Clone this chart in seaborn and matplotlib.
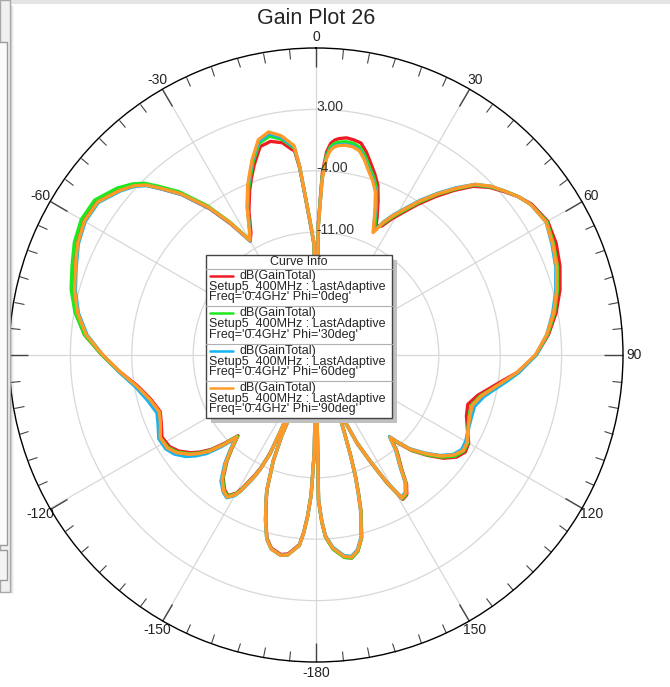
import numpy as np
import pandas as pd
import matplotlib.pyplot as plt
import seaborn as sns
from matplotlib.patches import Rectangle
from matplotlib.lines import Line2D

# angle (deg, clockwise from top) shared by all four curves
theta_deg = [-180, -179, -178, -177, -176, -175, -172, -170, -167, -165,
             -163, -161, -160, -158, -157, -156, -155, -154, -153, -151,
             -150, -148, -146, -143, -140, -138, -136, -134, -132, -130,
             -128, -125, -122, -118, -114, -110, -105, -100, -95, -90,
             -85, -80, -75, -70, -65, -60, -55, -50, -47, -45,
             -43, -40, -36, -33, -30, -28, -25, -22, -20, -18,
             -15, -12, -9, -7, -6, -5, -4, -3, -2, -1,
             0, 1, 2, 3, 4, 5, 6, 8, 10, 12,
             14, 16, 18, 20, 22, 24, 25, 27, 29, 31,
             34, 37, 40, 43, 46, 49, 52, 55, 60, 65,
             70, 75, 80, 85, 90, 95, 98, 101, 104, 108,
             112, 117, 120, 123, 126, 129, 132, 135, 137, 138,
             140, 143, 145, 147, 149, 151, 153, 155, 157, 158,
             159, 160, 161, 162, 163, 164, 166, 168, 170, 172,
             175, 177, 178, 179, 180]

gain_phi0 = [-25, -14, -9, -6.6, -4.7, -3.3, -2.1, -1.9, -2.4, -3.4,
             -5.4, -7.6, -8.7, -12, -15, -25, -12.8, -10.8, -9.6, -7.6,
             -6.8, -6.1, -6.4, -7.4, -9.2, -10.7, -12.2, -10.5, -8.9, -7.8,
             -6.9, -5.9, -5.3, -5.1, -5.7, -6.1, -5.5, -4.4, -2.6, -0.6,
             1.5, 2.8, 3.8, 4.5, 5.3, 5.7, 5.6, 4.4, 3.3, 2.4,
             0.9, -1.1, -4.4, -7.2, -10.0, -9.2, -6.9, -4.8, -3.5, -2.2,
             -0.4, -0.1, -0.5, -1.3, -1.6, -3.6, -6.6, -9.0, -10.9, -12.5,
             -25, -10.0, -4.2, -1.8, -0.8, -0.4, -0.2, 0.0, -0.1, -0.3,
             -1.2, -2.3, -3.3, -4.4, -6.1, -7.9, -8.8, -8.5, -7.3, -6.2,
             -4.3, -2.4, -0.5, 1.3, 2.5, 3.4, 4.3, 5.0, 5.5, 5.2,
             4.6, 3.8, 2.8, 1.6, 0.1, -2.0, -3.6, -4.9, -6.0, -6.8,
             -6.5, -5.6, -4.9, -4.7, -5.2, -6.3, -7.9, -9.6, -11.3, -12.2,
             -10.6, -8.8, -7.0, -6.0, -5.8, -8.3, -11.3, -13.8, -17.3, -25,
             -17.3, -15.3, -12.8, -10.3, -8.3, -6.3, -3.5, -2.1, -1.5, -1.7,
             -2.8, -4.2, -5.9, -8.4, -25]

gain_phi30 = [-25, -14, -9, -6.5, -4.6, -3.2, -2.0, -1.8, -2.3, -3.3,
              -5.3, -7.5, -8.6, -12, -15, -25, -12.6, -10.6, -9.4, -7.4,
              -6.7, -6.0, -6.3, -7.3, -9.1, -10.6, -12.1, -10.3, -8.7, -7.6,
              -6.7, -5.7, -5.1, -4.9, -5.5, -5.8, -5.2, -4.2, -2.5, -0.6,
              1.5, 2.9, 3.9, 4.6, 5.4, 5.9, 5.8, 4.6, 3.6, 2.7,
              1.3, -0.7, -4.0, -6.9, -9.8, -8.9, -6.6, -4.5, -3.2, -1.8,
              0.0, 0.5, -0.1, -0.9, -1.3, -3.4, -6.5, -8.9, -10.8, -12.4,
              -25, -10.3, -4.6, -2.2, -1.2, -0.8, -0.6, -0.45, -0.5, -0.8,
              -1.7, -2.8, -3.7, -4.8, -6.6, -8.4, -9.2, -8.2, -7.0, -5.9,
              -4.0, -2.1, -0.3, 1.5, 2.6, 3.5, 4.3, 4.9, 5.4, 4.9,
              4.3, 3.5, 2.6, 1.5, 0.1, -1.9, -3.3, -4.6, -5.7, -6.4,
              -6.2, -5.6, -5.0, -4.9, -5.4, -6.5, -8.0, -9.7, -11.4, -12.3,
              -10.7, -8.9, -7.1, -6.1, -5.9, -8.4, -11.4, -13.9, -17.4, -25,
              -17.4, -15.4, -12.9, -10.4, -8.4, -6.4, -3.5, -2.1, -1.5, -1.7,
              -2.8, -4.2, -5.9, -8.4, -25]

gain_phi60 = [-25, -14, -9, -6.5, -4.6, -3.2, -2.0, -1.8, -2.3, -3.3,
              -5.3, -7.5, -8.6, -12, -15, -25, -12.4, -10.4, -9.2, -7.2,
              -6.5, -5.8, -6.1, -7.0, -8.8, -10.3, -11.8, -9.9, -8.2, -7.1,
              -6.2, -5.3, -4.8, -4.7, -5.3, -5.7, -5.1, -4.1, -2.5, -0.7,
              1.2, 2.5, 3.4, 4.1, 4.9, 5.4, 5.3, 4.1, 3.2, 2.3,
              0.9, -1.1, -4.3, -7.1, -10.0, -8.9, -6.5, -4.3, -3.0, -1.6,
              0.2, 0.8, 0.1, -0.8, -1.1, -3.3, -6.4, -8.8, -10.7, -12.3,
              -25, -10.4, -4.9, -2.5, -1.5, -1.1, -0.9, -0.75, -0.8, -1.1,
              -2.0, -3.1, -4.0, -5.1, -6.9, -8.7, -9.5, -7.9, -6.7, -5.6,
              -3.7, -1.9, -0.1, 1.6, 2.7, 3.5, 4.3, 4.9, 5.3, 4.7,
              4.1, 3.3, 2.4, 1.4, 0.1, -1.8, -3.1, -4.3, -5.3, -6.0,
              -5.9, -5.6, -5.3, -5.2, -5.7, -6.8, -8.3, -9.9, -11.6, -12.5,
              -10.9, -9.1, -7.3, -6.3, -6.1, -8.6, -11.6, -14.1, -17.6, -25,
              -17.6, -15.6, -13.1, -10.6, -8.6, -6.6, -3.7, -2.3, -1.7, -1.9,
              -3.0, -4.4, -6.1, -8.6, -25]

gain_phi90 = [-25, -14, -9, -6.5, -4.6, -3.2, -2.0, -1.8, -2.3, -3.3,
              -5.3, -7.5, -8.6, -12, -15, -25, -12.5, -10.5, -9.3, -7.3,
              -6.6, -5.9, -6.2, -7.2, -9.0, -10.5, -12.0, -10.2, -8.6, -7.5,
              -6.6, -5.6, -5.0, -4.9, -5.6, -6.0, -5.4, -4.3, -2.6, -0.7,
              1.3, 2.6, 3.5, 4.2, 5.0, 5.5, 5.4, 4.2, 3.3, 2.4,
              1.0, -1.0, -4.2, -7.0, -9.9, -8.8, -6.4, -4.2, -2.9, -1.5,
              0.4, 1.0, 0.3, -0.6, -1.0, -3.3, -6.4, -8.8, -10.7, -12.3,
              -25, -10.5, -5.0, -2.6, -1.6, -1.2, -1.0, -0.85, -0.9, -1.2,
              -2.1, -3.2, -4.1, -5.2, -7.0, -8.8, -9.6, -8.0, -6.8, -5.7,
              -3.8, -2.0, -0.2, 1.6, 2.7, 3.5, 4.3, 4.9, 5.3, 4.8,
              4.2, 3.4, 2.5, 1.4, 0.0, -2.0, -3.4, -4.6, -5.6, -6.3,
              -6.1, -5.6, -5.1, -5.0, -5.6, -6.7, -8.2, -9.8, -11.5, -12.4,
              -10.8, -9.0, -7.2, -6.2, -6.0, -8.5, -11.5, -14, -17.5, -25,
              -17.5, -15.5, -13, -10.5, -8.5, -6.5, -3.6, -2.2, -1.6, -1.8,
              -2.9, -4.3, -6.0, -8.5, -25]

phi_labels = ["0deg", "30deg", "60deg", "90deg"]
curve_colors = ["#ee1c24", "#1ee81e", "#14b4f0", "#ff9a28"]
ring_levels = [-18, -11, -4, 3]
ring_labels_shown = [-11, -4, 3]   # -18.00 is hidden behind the curve info box
angle_ticks = [0, 30, 60, 90, 120, 150, 180, 210, 240, 270, 300, 330]
# the -90 label sits under the side panel in the screenshot, so it is left blank
angle_labels = ["0", "30", "60", "90", "120", "150", "-180", "-150", "-120", "", "-60", "-30"]

sns.set_style("white")
plt.rcParams["font.family"] = ["Liberation Sans", "DejaVu Sans"]

W, H = 670, 687


def fx(x):
    return x / W


def fy(y):
    return 1 - y / H


df = pd.concat([
    pd.DataFrame({"theta": np.deg2rad(theta_deg), "gain": g, "curve": p})
    for p, g in zip(phi_labels, [gain_phi0, gain_phi30, gain_phi60, gain_phi90])
])

fig = plt.figure(figsize=(6.7, 6.87), dpi=100)
fig.patch.set_facecolor("white")
ax = fig.add_axes([fx(9), fy(662), 614 / W, 614 / H], projection="polar")

sns.lineplot(data=df, x="theta", y="gain", hue="curve", hue_order=phi_labels,
             palette=dict(zip(phi_labels, curve_colors)), estimator=None,
             sort=False, legend=False, lw=2.4, ax=ax)

ax.set_theta_zero_location("N")
ax.set_theta_direction(-1)
ax.set_ylim(-25, 10)
ax.set_xlabel("")
ax.set_ylabel("")

ax.set_xticks(np.deg2rad(angle_ticks))
ax.set_xticklabels(angle_labels, fontsize=10, color="#222222")
ax.set_xticks(np.deg2rad(np.arange(0, 360, 5)), minor=True)
ax.tick_params(axis="x", which="both", bottom=True, top=True)
ax.tick_params(axis="x", which="major", direction="in", length=14, width=1,
               color="#444444", pad=1)
ax.tick_params(axis="x", which="minor", direction="in", length=7, width=0.8,
               color="#444444")
ax.set_yticks(ring_levels)
ax.set_yticklabels([])
ax.grid(True, color="#d8d8d8", lw=0.9)
ax.spines["polar"].set_color("black")
ax.spines["polar"].set_linewidth(1)

for lv in ring_labels_shown:
    ax.text(0, lv - 0.5, f"{lv:.2f}", ha="left", va="bottom", fontsize=10,
            color="#333333")

fig.text(fx(316), fy(18), "Gain Plot 26", ha="center", va="center", fontsize=15.5)

# curve info box
fig.add_artist(Rectangle((fx(211), fy(423)), (392 - 206) / W, (418 - 255) / H,
                         transform=fig.transFigure, facecolor="#c0c0c0", edgecolor="none"))
fig.add_artist(Rectangle((fx(206), fy(418)), (392 - 206) / W, (418 - 255) / H,
                         transform=fig.transFigure, facecolor="white",
                         edgecolor="#444444", lw=1))
fig.text(fx(299), fy(262), "Curve Info", ha="center", va="center", fontsize=9)
fig.add_artist(Line2D([fx(206), fx(392)], [fy(269), fy(269)], transform=fig.transFigure,
                      color="#b0b0b0", lw=0.8))
for i, (p, c) in enumerate(zip(phi_labels, curve_colors)):
    top = 269 + i * 37.3
    fig.add_artist(Line2D([fx(210), fx(233)], [fy(top + 7), fy(top + 7)],
                          transform=fig.transFigure, color=c, lw=1.8))
    fig.text(fx(240), fy(top + 7), "dB(GainTotal)", ha="left", va="center", fontsize=9)
    fig.text(fx(209), fy(top + 18), "Setup5_400MHz : LastAdaptive", ha="left",
             va="center", fontsize=9)
    fig.text(fx(209), fy(top + 28.5), f"Freq='0.4GHz' Phi='{p}'", ha="left",
             va="center", fontsize=9)
    if i < 3:
        fig.add_artist(Line2D([fx(206), fx(392)], [fy(top + 37.3), fy(top + 37.3)],
                              transform=fig.transFigure, color="#b0b0b0", lw=0.8))

# window chrome from the screenshot
fig.add_artist(Rectangle((0, fy(4)), 1, 4 / H, transform=fig.transFigure,
                         facecolor="#e4e4e4", edgecolor="none"))
for k, a in enumerate([0.25, 0.15, 0.08, 0.04]):
    fig.add_artist(Rectangle((fx(10 + k), fy(592 + k)), 1 / W, (592 - 4) / H,
                             transform=fig.transFigure, facecolor="black",
                             alpha=a, edgecolor="none"))
fig.add_artist(Rectangle((0, fy(592)), 10 / W, 592 / H, transform=fig.transFigure,
                         facecolor="#f0f0f0", edgecolor="#a8a8a8", lw=1))
fig.add_artist(Rectangle((-0.01, fy(545)), fx(7) + 0.01, (545 - 42) / H,
                         transform=fig.transFigure, facecolor="#fafafa",
                         edgecolor="#9a9a9a", lw=1))
fig.add_artist(Rectangle((-0.01, fy(580)), fx(7) + 0.01, (580 - 550) / H,
                         transform=fig.transFigure, facecolor="#f4f4f4",
                         edgecolor="#9a9a9a", lw=1))

plt.savefig("out.png", dpi=100)
